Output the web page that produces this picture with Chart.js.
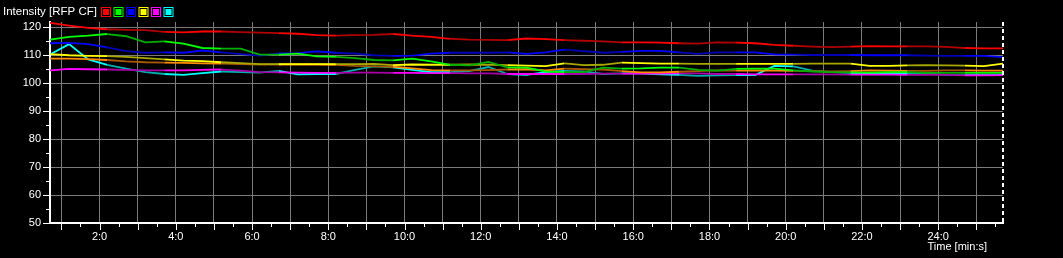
<!DOCTYPE html>
<html>
<head>
<meta charset="utf-8">
<script src="https://cdn.jsdelivr.net/npm/chart.js@4"></script>
<style>
  html, body { margin: 0; padding: 0; background: #000; }
  canvas { display: block; }
</style>
</head>
<body>
<canvas id="chart" width="1063" height="258"></canvas>
<script>
// tempo em minutos
const tempos = [0.7,1.2,1.7,2.2,2.7,3.2,3.7,4.2,4.7,5.2,5.7,6.2,6.7,7.2,7.7,8.2,8.7,9.2,
  9.7,10.2,10.7,11.2,11.7,12.2,12.7,13.2,13.7,14.2,14.7,15.2,15.7,16.2,16.7,17.2,17.7,
  18.2,18.7,19.2,19.7,20.2,20.7,21.2,21.7,22.2,22.7,23.2,23.7,24.2,24.7,25.2,25.7];

const vermelho = [121.6,120.6,119.8,119.3,119.1,119.0,118.4,118.2,118.5,118.5,118.3,118.1,117.9,117.7,117.2,117.0,117.2,117.3,
  117.6,117.0,116.6,115.9,115.6,115.5,115.4,116.0,115.8,115.4,115.2,115.0,114.6,114.6,114.5,114.3,114.2,
  114.6,114.5,114.3,113.7,113.4,113.1,112.9,113.1,113.3,113.2,113.2,113.2,113.0,112.6,112.5,112.5];
const verde = [115.6,116.6,117.0,117.6,116.8,114.6,115.0,114.2,112.6,112.4,112.4,110.2,110.2,110.6,109.6,109.4,109.0,108.3,
  108.2,108.8,107.8,106.6,106.4,107.6,105.7,105.6,104.2,104.0,104.0,105.6,105.2,105.3,105.6,105.6,104.8,
  104.5,105.1,105.2,105.2,104.6,104.2,104.0,103.9,103.8,104.0,104.0,103.7,103.7,103.7,103.7,103.7];
const azul = [114.3,114.4,114.0,112.8,111.5,110.9,111.0,110.9,111.7,111.0,110.4,109.9,110.7,110.8,111.4,110.9,110.6,110.0,
  109.8,109.9,110.6,110.9,110.9,110.9,111.0,110.5,111.0,112.0,111.5,110.9,111.2,111.6,111.6,111.0,110.5,
  111.0,111.0,111.0,110.3,110.2,110.1,110.1,110.1,110.0,110.0,110.0,109.9,109.8,109.8,109.8,109.3];
const amarelo = [110.4,110.0,109.8,109.7,109.4,109.0,108.5,108.1,107.9,107.5,107.2,106.8,106.8,106.8,106.8,106.8,106.8,106.9,
  106.5,106.7,106.6,106.6,106.7,106.6,106.5,106.3,106.1,107.1,106.5,106.6,107.4,107.2,107.0,107.0,106.9,
  106.9,106.9,106.9,106.9,106.9,107.0,107.0,107.0,106.2,106.2,106.4,106.5,106.4,106.3,106.1,107.0];
const laranja = [108.8,108.8,108.6,108.3,107.8,107.5,107.4,107.3,107.1,107.0,106.8,106.7,106.7,106.7,106.7,106.6,106.2,106.0,
  105.9,105.3,104.7,104.6,104.6,104.7,104.9,105.0,104.6,105.2,105.0,104.9,104.3,103.9,103.9,104.1,104.3,
  104.6,104.5,104.6,104.5,104.4,104.3,104.2,104.3,104.6,104.5,104.4,104.4,104.6,104.6,104.5,104.5];
const magenta = [104.6,105.1,105.0,104.9,104.8,104.6,104.6,104.6,104.8,104.9,104.5,104.0,103.9,103.8,103.7,103.7,103.8,103.8,
  103.7,103.7,103.6,103.6,103.5,103.5,103.3,103.3,103.3,103.3,103.3,103.4,103.4,103.4,103.4,103.5,103.5,
  103.3,103.3,103.2,103.2,103.2,103.2,103.2,103.1,103.1,103.1,103.0,103.0,103.0,102.8,102.8,102.9];
const ciano = [110.3,114.0,108.5,106.6,105.2,104.0,103.3,103.0,103.6,104.2,104.0,103.8,104.4,103.2,103.3,103.3,104.8,106.0,
  105.7,104.8,104.0,104.0,104.3,105.8,103.3,103.0,104.0,104.4,104.2,103.3,103.5,103.5,103.2,103.0,102.6,
  102.8,102.9,102.9,106.2,106.0,104.5,104.0,103.6,103.3,103.7,103.5,103.4,103.0,102.9,102.9,103.0];

const ticksX = [1,2,3,4,5,6,7,8,9,10,11,12,13,14,15,16,17,18,19,20,21,22,23,24,25];
const ticksY = [50,60,70,80,90,100,110,120];
const tituloY = 'Intensity [RFP CF]';
const tituloX = 'Time [min:s]';

const series = [
  { dados: vermelho, cor: '#ff0000', escura: '#b00000' },
  { dados: verde,    cor: '#00ff00', escura: '#00b000' },
  { dados: azul,     cor: '#0000ff', escura: '#0000b8' },
  { dados: amarelo,  cor: '#ffff00', escura: '#a8a800' },
  { dados: laranja,  cor: '#ff8c00', escura: '#a85800' },
  { dados: magenta,  cor: '#ff00ff', escura: '#a800a8' },
  { dados: ciano,    cor: '#00ffff', escura: '#00b0b0' }
];
// quadradinhos da legenda (sem o laranja)
const coresLegenda = ['#ff0000', '#00ff00', '#0000ff', '#ffff00', '#ff00ff', '#00ffff'];

const fonte = { family: 'Liberation Sans', size: 11 };

// desenha titulo, legenda, ticks menores e borda tracejada
const extras = {
  id: 'extras',
  afterDraw(chart) {
    const c = chart.ctx;
    const area = chart.chartArea;
    const sx = chart.scales.x, sy = chart.scales.y;
    c.save();
    c.fillStyle = '#fff';
    c.font = '11.5px "Liberation Sans"';
    c.textBaseline = 'middle';
    c.textAlign = 'left';
    c.fillText(tituloY, 3, 12);
    coresLegenda.forEach((cor, i) => {
      const x = 101 + i * 12.5;
      c.strokeStyle = cor;
      c.lineWidth = 1;
      c.strokeRect(x + 0.5, 7.5, 9, 9);
      c.fillStyle = cor;
      c.fillRect(x + 2, 9, 6, 6);
    });
    c.fillStyle = '#fff';
    c.font = '11px "Liberation Sans"';
    c.textAlign = 'right';
    c.fillText(tituloX, 987, 247);

    c.strokeStyle = '#fff';
    c.lineWidth = 1;
    // ticks do eixo x
    for (let v = 1; v <= 25.5; v += 0.5) {
      const px = Math.round(sx.getPixelForValue(v)) + 0.5;
      const len = Number.isInteger(v) ? 7 : 4;
      c.beginPath(); c.moveTo(px, area.bottom); c.lineTo(px, area.bottom + len); c.stroke();
    }
    // ticks do eixo y
    for (let v = 50; v <= 120; v += 5) {
      const py = Math.round(sy.getPixelForValue(v)) + 0.5;
      const len = v % 10 === 0 ? 7 : 4;
      c.beginPath(); c.moveTo(area.left - len, py); c.lineTo(area.left, py); c.stroke();
    }
    // borda direita tracejada
    c.lineWidth = 2;
    c.setLineDash([4, 3]);
    c.beginPath(); c.moveTo(area.right, area.top); c.lineTo(area.right, area.bottom); c.stroke();
    c.restore();
  }
};

new Chart(document.getElementById('chart'), {
  type: 'line',
  data: {
    datasets: series.map(s => ({
      data: tempos.map((t, i) => ({ x: t, y: s.dados[i] })),
      borderColor: s.cor,
      borderWidth: 1.8,
      pointRadius: 0,
      tension: 0,
      segment: {
        borderColor: ctx => (Math.floor(ctx.p0DataIndex / 3) % 2 === 0 ? s.cor : s.escura)
      }
    }))
  },
  options: {
    responsive: false,
    animation: false,
    layout: { padding: { top: 22, right: 60, left: 0, bottom: 0 } },
    plugins: { legend: { display: false }, tooltip: { enabled: false } },
    scales: {
      x: {
        type: 'linear',
        min: 0.7,
        max: 25.7,
        afterBuildTicks: scale => { scale.ticks = ticksX.map(v => ({ value: v })); },
        afterFit: scale => { scale.height = 35; },
        grid: { color: '#7a7a7a', lineWidth: 1, drawTicks: false },
        border: { color: '#fff', width: 2 },
        ticks: {
          color: '#fff',
          font: fonte,
          padding: 7,
          maxRotation: 0,
          autoSkip: false,
          callback: v => (v % 2 === 0 ? v + ':0' : '')
        }
      },
      y: {
        min: 50,
        max: 121.9,
        afterBuildTicks: scale => { scale.ticks = ticksY.map(v => ({ value: v })); },
        afterFit: scale => { scale.width = 50; },
        grid: { color: '#7a7a7a', lineWidth: 1, drawTicks: false },
        border: { color: '#fff', width: 2 },
        ticks: { color: '#fff', font: fonte, padding: 9 }
      }
    }
  },
  plugins: [extras]
});
</script>
</body>
</html>
